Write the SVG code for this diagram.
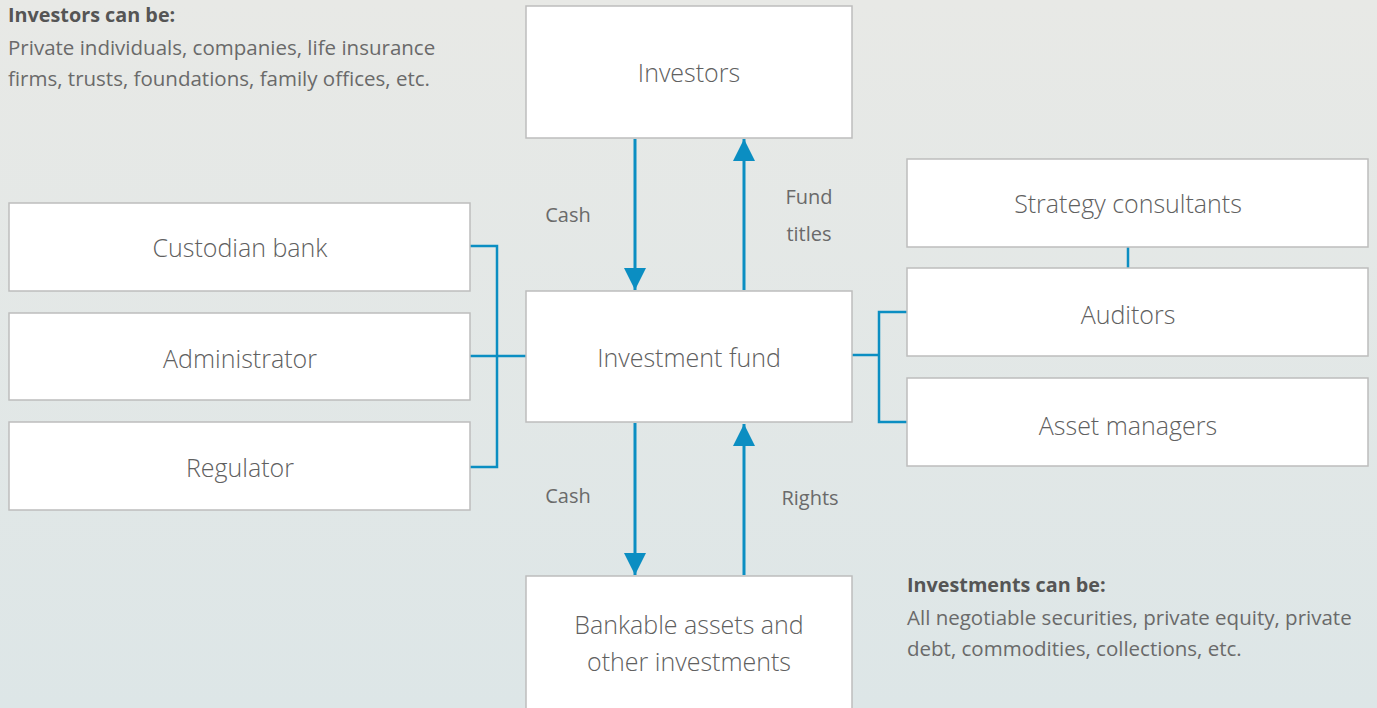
<svg xmlns="http://www.w3.org/2000/svg" width="1377" height="708" viewBox="0 0 1377 708">
<defs>
<linearGradient id="bg" x1="0" y1="0" x2="0" y2="1">
<stop offset="0" stop-color="#e8e9e6"/>
<stop offset="1" stop-color="#dde6e7"/>
</linearGradient>
<marker id="ah" viewBox="0 0 22 22" refX="22" refY="11" markerWidth="22" markerHeight="22" markerUnits="userSpaceOnUse" orient="auto">
<path d="M0,0 L22,11 L0,22 Z" fill="#0b8ec2"/>
</marker>
<style>
.box{fill:#fff;stroke:#bdbdbd;stroke-width:1.5}
.lbl{font-family:"Open Sans","Liberation Sans",sans-serif;font-size:25px;font-weight:300;fill:#606060;text-anchor:middle}
.sm{font-family:"Open Sans","Liberation Sans",sans-serif;font-size:20.5px;fill:#6a6a6a}
.fl{font-family:"Open Sans","Liberation Sans",sans-serif;font-size:20px;fill:#6a6a6a;text-anchor:middle}
.hd{font-family:"Open Sans","Liberation Sans",sans-serif;font-size:19.8px;fill:#555;font-weight:bold}
.con{fill:none;stroke:#0b8ec2;stroke-width:2.5}
.arr{fill:none;stroke:#0b8ec2;stroke-width:3;marker-end:url(#ah)}
</style>
</defs>
<rect width="1377" height="708" fill="url(#bg)"/>
<g id="connectors">
<polyline class="con" points="470,246 497,246 497,467 470,467"/>
<line class="con" x1="470" y1="356" x2="526" y2="356"/>
<line class="con" x1="852" y1="355" x2="879" y2="355"/>
<polyline class="con" points="907,312 879,312 879,422 907,422"/>
<line class="con" x1="1128" y1="247" x2="1128" y2="268"/>
<line class="arr" x1="635" y1="139" x2="635" y2="290"/>
<line class="arr" x1="744" y1="290" x2="744" y2="139"/>
<line class="arr" x1="635" y1="423" x2="635" y2="575"/>
<line class="arr" x1="744" y1="575" x2="744" y2="424"/>
<text class="fl" x="568" y="222">Cash</text>
<text class="fl" x="809" y="204">Fund</text>
<text class="fl" x="809" y="241">titles</text>
<text class="fl" x="568" y="503">Cash</text>
<text class="fl" x="810" y="505">Rights</text>
</g>
<g id="investors"><rect class="box" x="526" y="6" width="326" height="132"/><text class="lbl" x="689" y="82">Investors</text></g>
<g id="fund"><rect class="box" x="526" y="291" width="326" height="131"/><text class="lbl" x="689" y="367">Investment fund</text></g>
<g id="bankable"><rect class="box" x="526" y="576" width="326" height="140"/><text class="lbl" x="689" y="634">Bankable assets and</text><text class="lbl" x="689" y="671">other investments</text></g>
<g id="custodian"><rect class="box" x="9" y="203" width="461" height="88"/><text class="lbl" x="240" y="257">Custodian bank</text></g>
<g id="administrator"><rect class="box" x="9" y="313" width="461" height="87"/><text class="lbl" x="240" y="368">Administrator</text></g>
<g id="regulator"><rect class="box" x="9" y="422" width="461" height="88"/><text class="lbl" x="240" y="477">Regulator</text></g>
<g id="strategy"><rect class="box" x="907" y="159" width="461" height="88"/><text class="lbl" x="1128" y="213">Strategy consultants</text></g>
<g id="auditors"><rect class="box" x="907" y="268" width="461" height="88"/><text class="lbl" x="1128" y="324">Auditors</text></g>
<g id="assetmanagers"><rect class="box" x="907" y="378" width="461" height="88"/><text class="lbl" x="1128" y="435">Asset managers</text></g>
<g id="note-investors">
<text class="hd" x="8" y="22">Investors can be:</text>
<text class="sm" x="8" y="55">Private individuals, companies, life insurance</text>
<text class="sm" x="8" y="86">firms, trusts, foundations, family offices, etc.</text>
</g>
<g id="note-investments">
<text class="hd" x="907" y="592">Investments can be:</text>
<text class="sm" x="907" y="625">All negotiable securities, private equity, private</text>
<text class="sm" x="907" y="656">debt, commodities, collections, etc.</text>
</g>
</svg>
